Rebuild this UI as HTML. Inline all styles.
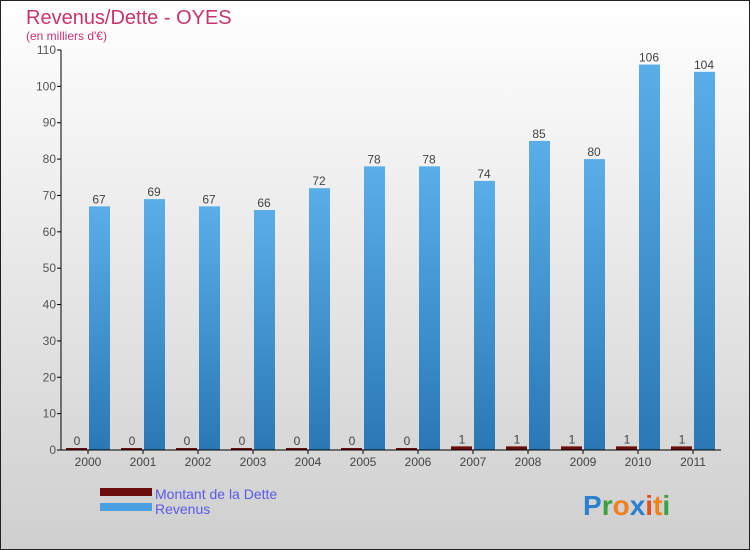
<!DOCTYPE html>
<html><head><meta charset="utf-8"><style>
body{margin:0}
svg{display:block;font-family:"Liberation Sans",sans-serif}
</style></head><body>
<svg id="c" width="750" height="550" xmlns="http://www.w3.org/2000/svg">
<defs>
<linearGradient id="bg" x1="0" y1="0" x2="0" y2="1"><stop offset="0" stop-color="#ffffff"/><stop offset="1" stop-color="#cfcfcf"/></linearGradient>
<linearGradient id="rv" x1="0" y1="0" x2="0" y2="1"><stop offset="0" stop-color="#5aaee8"/><stop offset="1" stop-color="#2a78b4"/></linearGradient>
</defs>
<rect x="0.5" y="0.5" width="749" height="549" fill="url(#bg)" stroke="#222"/>
<text x="26" y="24" font-size="20" fill="#c8356e">Revenus/Dette - OYES</text>
<text x="26" y="40" font-size="12" fill="#c8356e">(en milliers d'€)</text>
<g id="plot"></g>
<rect x="100" y="488" width="52" height="8" fill="#6b0d0d"/>
<rect x="100" y="503" width="52" height="8" fill="#4aa0e0"/>
<text x="155" y="499" font-size="14" fill="#5a5ae8">Montant de la Dette</text>
<text x="155" y="514" font-size="14" fill="#5a5ae8">Revenus</text>
<text x="583" y="515" font-size="28" font-weight="bold"><tspan fill="#2a80d0">P</tspan><tspan fill="#3aa040">r</tspan><tspan fill="#f08020">o</tspan><tspan fill="#2a80d0">x</tspan><tspan fill="#e05020">i</tspan><tspan fill="#f08020">t</tspan><tspan fill="#3aa040">i</tspan></text>
</svg>
<script>
const categories=["2000","2001","2002","2003","2004","2005","2006","2007","2008","2009","2010","2011"];
const dette=[0,0,0,0,0,0,0,1,1,1,1,1];
const revenus=[67,69,67,66,72,78,78,74,85,80,106,104];
const yTicks=[0,10,20,30,40,50,60,70,80,90,100,110];
const NS="http://www.w3.org/2000/svg";
const g=document.getElementById('plot');
const x0=60.5,step=55,yBase=450,yTop=50,yMax=110;
const y=v=>yBase-(v/yMax)*(yBase-yTop);
const cx=i=>x0+step*(i+0.5);
function mk(t,a){const e=document.createElementNS(NS,t);for(const k in a)e.setAttribute(k,a[k]);g.appendChild(e);return e;}
categories.forEach((c,i)=>{
  const hd=Math.max(y(0)-y(dette[i]),2);
  const d=mk('rect',{x:cx(i)-22,y:yBase-hd,width:21,height:hd,fill:'#6b0d0d'});
  
  
  const r=mk('rect',{x:cx(i)+1,y:y(revenus[i]),width:21,height:yBase-y(revenus[i]),fill:'url(#rv)'});
  
  
  const t1=mk('text',{x:cx(i)-11,y:yBase-hd-3,'font-size':12,fill:'#444','text-anchor':'middle'});t1.textContent=dette[i];
  
  
  const t2=mk('text',{x:cx(i)+11,y:y(revenus[i])-3,'font-size':12,fill:'#444','text-anchor':'middle'});t2.textContent=revenus[i];
  
  
  const tk=mk('line',{x1:cx(i),x2:cx(i),y1:yBase,y2:yBase+4,stroke:'#000'});
  
  
  const xl=mk('text',{x:cx(i),y:yBase+16,'font-size':12,fill:'#444','text-anchor':'middle'});xl.textContent=c;
  
  
});
yTicks.forEach(v=>{
  const l=mk('line',{x1:57,x2:61,y1:y(v),y2:y(v),stroke:'#000'});
  
  
  const t=mk('text',{x:56,y:y(v)+4,'font-size':12,fill:'#555','text-anchor':'end'});t.textContent=v;
  
  
});
const ya=mk('line',{x1:61,x2:61,y1:yTop,y2:yBase,stroke:'#000'});


const xa=mk('line',{x1:61,x2:721,y1:yBase,y2:yBase,stroke:'#000'});


</script>
</body></html>
